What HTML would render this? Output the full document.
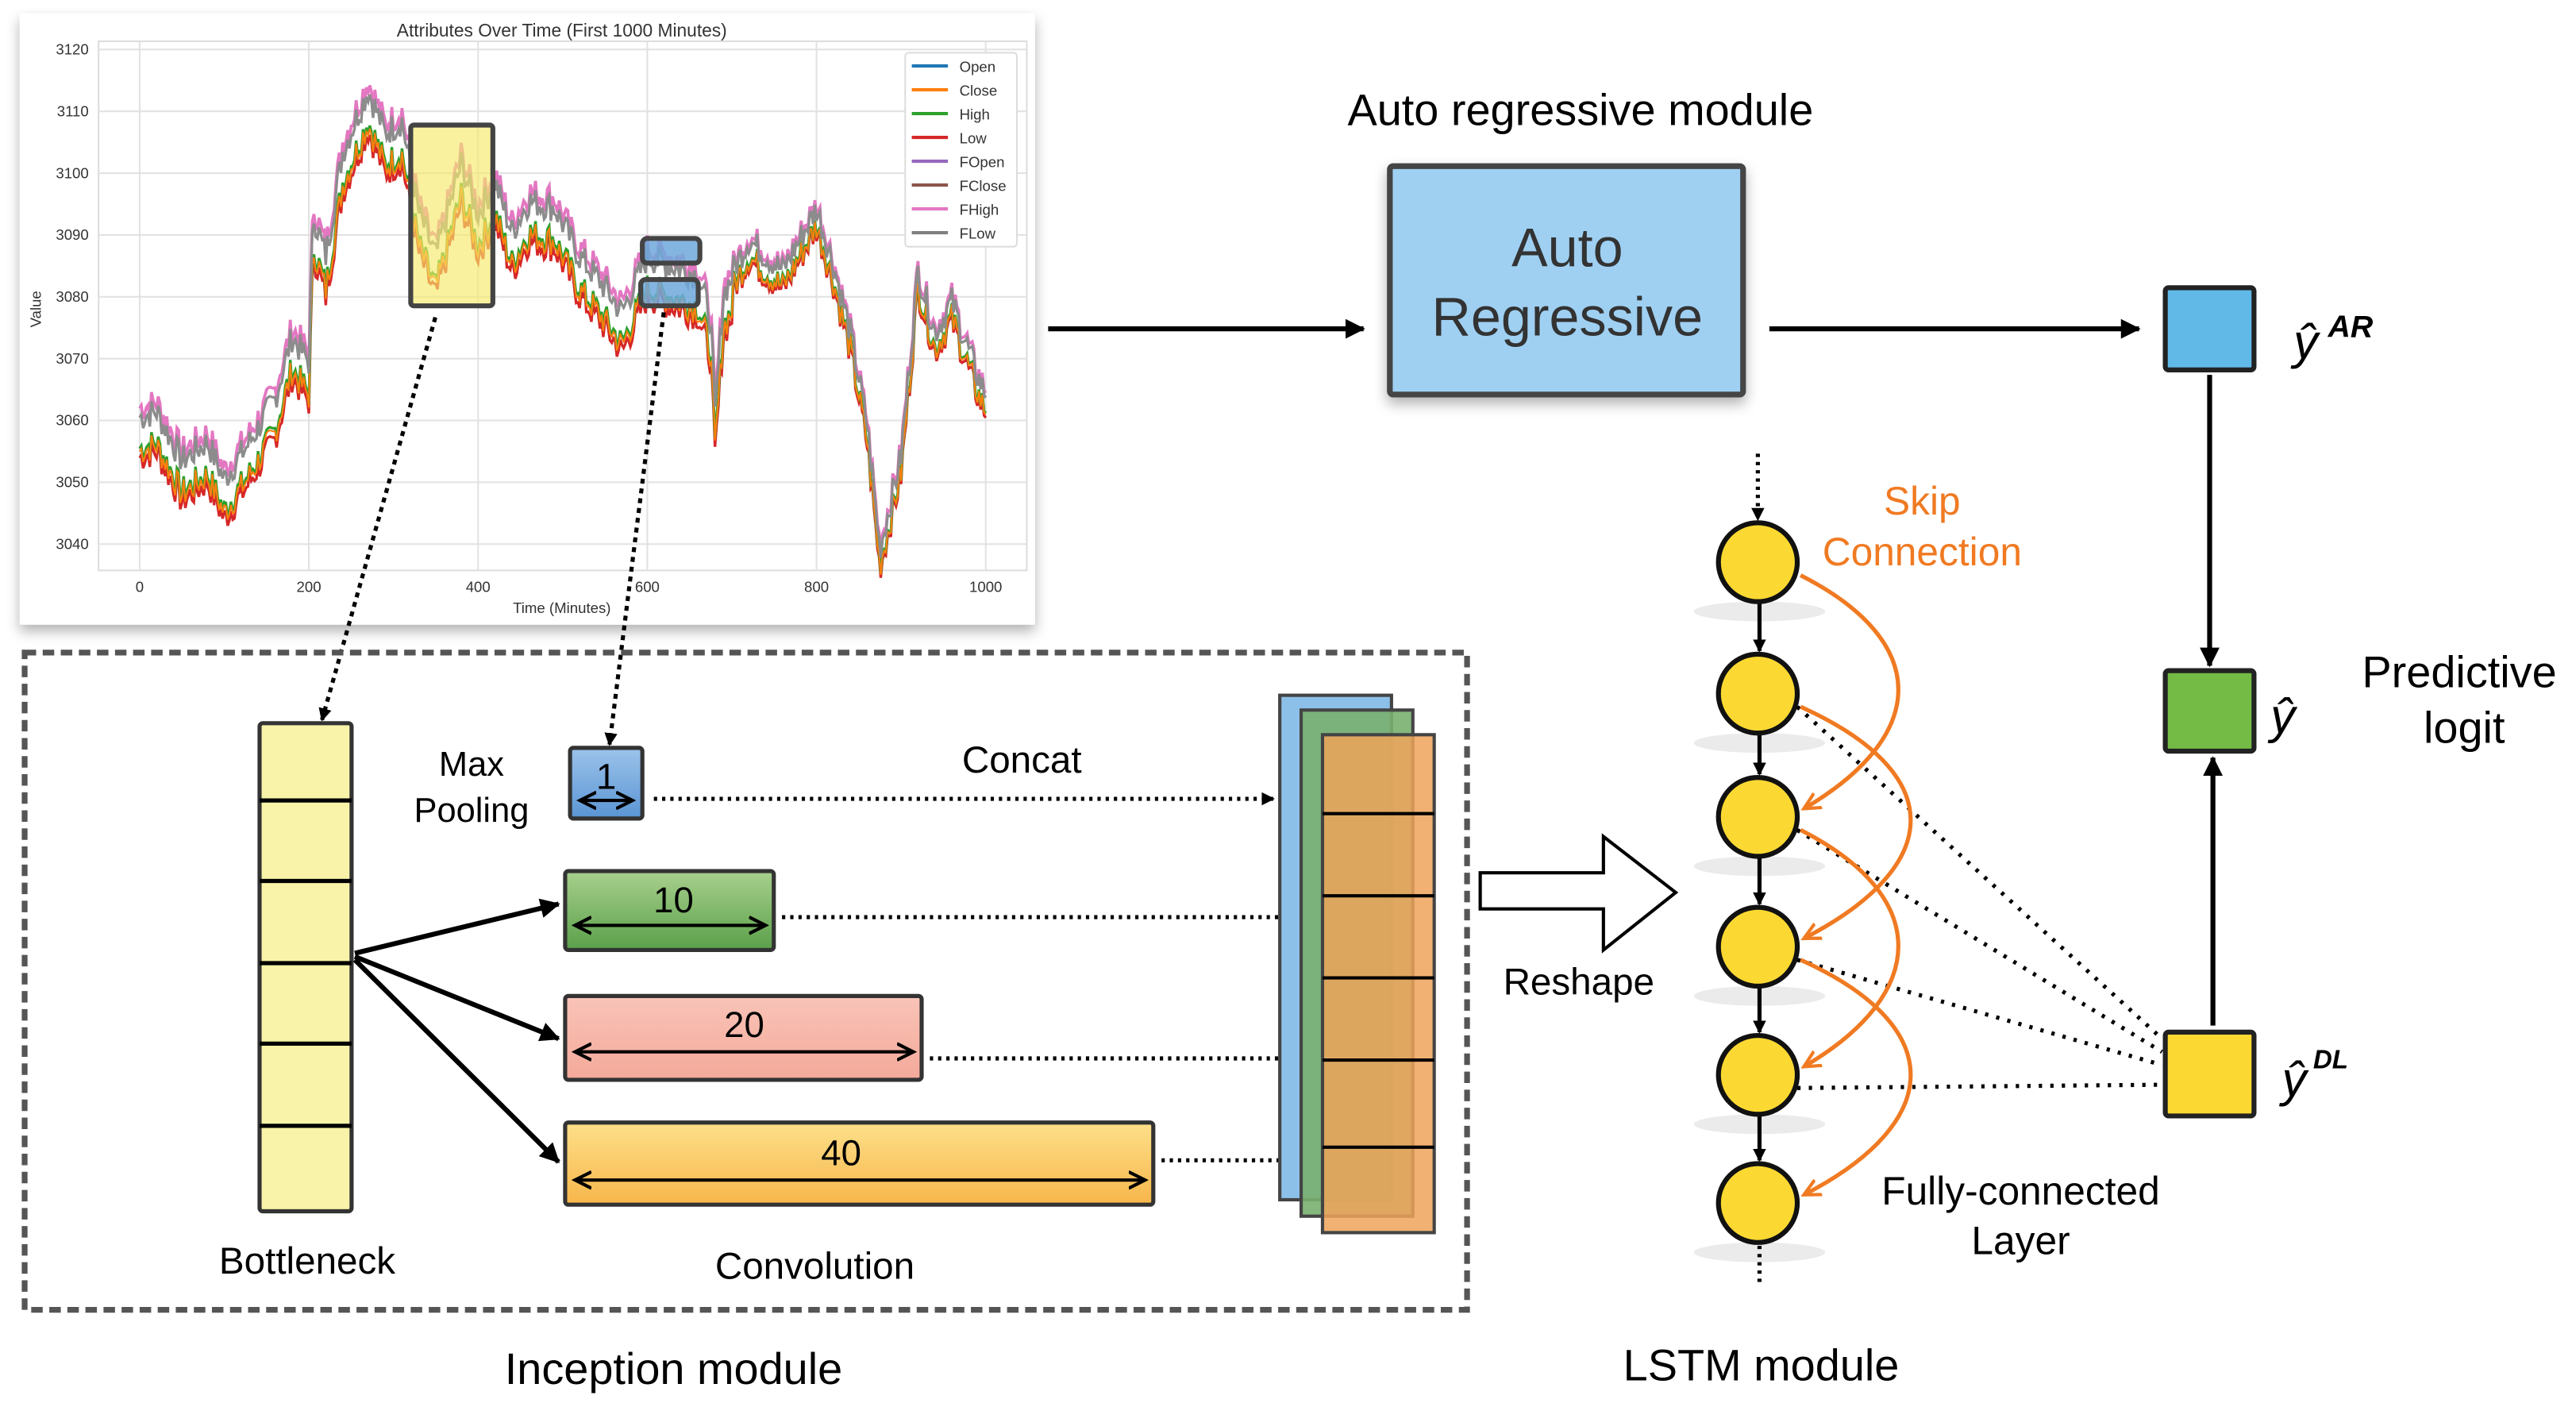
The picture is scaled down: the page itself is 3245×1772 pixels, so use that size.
<!DOCTYPE html>
<html><head><meta charset="utf-8"><style>
html,body{margin:0;padding:0;background:#fff}
svg{display:block}
text{font-family:"Liberation Sans",sans-serif}
</style></head><body>
<svg id="s" width="3245" height="1772" viewBox="0 0 1568 856" xmlns="http://www.w3.org/2000/svg">
<defs>
<marker id="ab" markerWidth="8" markerHeight="8" refX="7" refY="4" orient="auto" markerUnits="userSpaceOnUse"><path d="M0,0 L8,4 L0,8 z" fill="#000"/></marker>
<marker id="ab2" markerWidth="12" markerHeight="12" refX="11" refY="6" orient="auto" markerUnits="userSpaceOnUse"><path d="M0,0 L12,6 L0,12 z" fill="#000"/></marker>
<marker id="ao" markerWidth="12" markerHeight="12" refX="10" refY="6" orient="auto" markerUnits="userSpaceOnUse"><path d="M0,1 L10,6 L0,11" fill="none" stroke="#f07a22" stroke-width="2"/></marker>
<marker id="ac" markerWidth="12" markerHeight="12" refX="10" refY="6" orient="auto-start-reverse" markerUnits="userSpaceOnUse"><path d="M0,1 L10,6 L0,11" fill="none" stroke="#000" stroke-width="2"/></marker>
<filter id="sh" x="-20%" y="-20%" width="140%" height="160%"><feDropShadow dx="0" dy="4" stdDeviation="4" flood-opacity="0.3"/></filter>
<linearGradient id="gg" x1="0" y1="0" x2="0" y2="1"><stop offset="0" stop-color="#a8d08d"/><stop offset="1" stop-color="#5aa04a"/></linearGradient>
<linearGradient id="gp" x1="0" y1="0" x2="0" y2="1"><stop offset="0" stop-color="#f9c4b8"/><stop offset="1" stop-color="#f4a99a"/></linearGradient>
<linearGradient id="go" x1="0" y1="0" x2="0" y2="1"><stop offset="0" stop-color="#fde08a"/><stop offset="1" stop-color="#f7b64a"/></linearGradient>
<linearGradient id="gb" x1="0" y1="0" x2="0" y2="1"><stop offset="0" stop-color="#9cc3ea"/><stop offset="1" stop-color="#5a95d4"/></linearGradient>
</defs>

<rect x="12" y="8" width="618" height="372" fill="#fff" filter="url(#sh)"/>
<text x="342" y="22" font-size="11" text-anchor="middle" fill="#333">Attributes Over Time (First 1000 Minutes)</text>
<rect x="60" y="25" width="565" height="322" fill="none" stroke="#ddd"/>
<g id="grid" stroke="#e2e2e2" stroke-width="1"></g>
<g id="ticks" font-size="9" fill="#333"></g>
<text x="342" y="373" font-size="9" text-anchor="middle" fill="#333">Time (Minutes)</text>
<text x="25" y="188" font-size="9" text-anchor="middle" fill="#333" transform="rotate(-90 25 188)">Value</text>
<g id="series" fill="none" stroke-width="1.6"></g>
<rect x="551" y="32" width="68" height="118" fill="#fff" stroke="#ddd" rx="2"/>
<g id="legend" font-size="9" fill="#333"></g>
<rect x="250" y="76" width="50" height="110" fill="#f6ea6a" fill-opacity="0.65" stroke="#444" stroke-width="3" rx="2"/>
<rect x="391" y="145" width="35" height="15" fill="#6fa8dc" fill-opacity="0.85" stroke="#444" stroke-width="3" rx="3"/>
<rect x="390" y="170" width="35" height="16" fill="#6fa8dc" fill-opacity="0.85" stroke="#444" stroke-width="3" rx="3"/>

<line x1="265" y1="193" x2="196" y2="438" stroke="#000" stroke-width="2.5" stroke-dasharray="3,3" marker-end="url(#ab)"/>
<line x1="404" y1="190" x2="371" y2="453" stroke="#000" stroke-width="2.5" stroke-dasharray="3,3" marker-end="url(#ab)"/>

<rect x="15" y="397" width="878" height="400" fill="none" stroke="#555" stroke-width="3.5" stroke-dasharray="7,4"/>
<text x="410" y="842" font-size="27" text-anchor="middle">Inception module</text>

<rect x="158" y="440" width="56" height="297" fill="#f8f3a8" stroke="#333" stroke-width="2.5" rx="2"/>
<g stroke="#000" stroke-width="2.5"><line x1="158" y1="487" x2="214" y2="487"/><line x1="158" y1="536" x2="214" y2="536"/><line x1="158" y1="586" x2="214" y2="586"/><line x1="158" y1="635" x2="214" y2="635"/><line x1="158" y1="685" x2="214" y2="685"/></g>
<text x="187" y="775" font-size="23" text-anchor="middle">Bottleneck</text>

<text x="287" y="472" font-size="21" text-anchor="middle">Max</text>
<text x="287" y="500" font-size="21" text-anchor="middle">Pooling</text>
<rect x="347" y="455" width="44" height="43" fill="url(#gb)" stroke="#333" stroke-width="2.5" rx="2"/>
<text x="369" y="480" font-size="22" text-anchor="middle">1</text>
<line x1="353" y1="487" x2="385" y2="487" stroke="#000" stroke-width="2" marker-end="url(#ac)" marker-start="url(#ac)"/>

<rect x="344" y="530" width="127" height="48" fill="url(#gg)" stroke="#333" stroke-width="2.5" rx="2"/>
<text x="410" y="555" font-size="22" text-anchor="middle">10</text>
<line x1="350" y1="563" x2="466" y2="563" stroke="#000" stroke-width="2" marker-end="url(#ac)" marker-start="url(#ac)"/>
<rect x="344" y="606" width="217" height="51" fill="url(#gp)" stroke="#333" stroke-width="2.5" rx="2"/>
<text x="453" y="631" font-size="22" text-anchor="middle">20</text>
<line x1="350" y1="640" x2="556" y2="640" stroke="#000" stroke-width="2" marker-end="url(#ac)" marker-start="url(#ac)"/>
<rect x="344" y="683" width="358" height="50" fill="url(#go)" stroke="#333" stroke-width="2.5" rx="2"/>
<text x="512" y="709" font-size="22" text-anchor="middle">40</text>
<line x1="350" y1="718" x2="697" y2="718" stroke="#000" stroke-width="2" marker-end="url(#ac)" marker-start="url(#ac)"/>
<text x="496" y="778" font-size="23" text-anchor="middle">Convolution</text>

<g stroke="#000" stroke-width="3" fill="none">
<line x1="216" y1="580" x2="340" y2="550" marker-end="url(#ab2)"/>
<line x1="216" y1="582" x2="340" y2="632" marker-end="url(#ab2)"/>
<line x1="216" y1="584" x2="340" y2="707" marker-end="url(#ab2)"/>
</g>

<text x="622" y="470" font-size="23" text-anchor="middle">Concat</text>
<g stroke="#000" stroke-width="2.5" stroke-dasharray="2,3">
<line x1="398" y1="486" x2="775" y2="486" marker-end="url(#ab)"/>
<line x1="476" y1="558" x2="790" y2="558" marker-end="url(#ab)"/>
<line x1="566" y1="644" x2="800" y2="644" marker-end="url(#ab)"/>
<line x1="707" y1="706" x2="803" y2="706" marker-end="url(#ab)"/>
</g>

<rect x="779" y="423" width="68" height="307" fill="#8cc0e8" stroke="#444" stroke-width="2"/>
<rect x="792" y="432" width="68" height="308" fill="#79b070" fill-opacity="0.9" stroke="#444" stroke-width="2"/>
<rect x="805" y="447" width="68" height="303" fill="#eea35a" fill-opacity="0.85" stroke="#444" stroke-width="2"/>
<g stroke="#000" stroke-width="2"><line x1="805" y1="495" x2="873" y2="495"/><line x1="805" y1="545" x2="873" y2="545"/><line x1="805" y1="595" x2="873" y2="595"/><line x1="805" y1="645" x2="873" y2="645"/><line x1="805" y1="698" x2="873" y2="698"/></g>

<path d="M901,531 L976,531 L976,509 L1020,543 L976,578 L976,553 L901,553 z" fill="#fff" stroke="#000" stroke-width="2"/>
<text x="961" y="605" font-size="23" text-anchor="middle">Reshape</text>

<line x1="638" y1="200" x2="830" y2="200" stroke="#000" stroke-width="3" marker-end="url(#ab2)"/>
<text x="962" y="76" font-size="27" text-anchor="middle">Auto regressive module</text>
<rect x="846" y="101" width="215" height="139" fill="#9fd0f2" stroke="#444" stroke-width="3.5" rx="2" filter="url(#sh)"/>
<text x="954" y="162" font-size="33" text-anchor="middle" fill="#333">Auto</text>
<text x="954" y="204" font-size="33" text-anchor="middle" fill="#333">Regressive</text>
<line x1="1077" y1="200" x2="1302" y2="200" stroke="#000" stroke-width="3" marker-end="url(#ab2)"/>

<rect x="1318" y="175" width="54" height="50" fill="#61b9e8" stroke="#222" stroke-width="3" rx="2"/>
<text x="1396" y="218" font-size="30" font-style="italic" font-family="Liberation Serif,serif">ŷ</text><text x="1417" y="205" font-size="19" font-style="italic" font-weight="bold" font-family="Liberation Serif,serif">AR</text>
<line x1="1345" y1="228" x2="1345" y2="405" stroke="#000" stroke-width="3" marker-end="url(#ab2)"/>
<rect x="1318" y="408" width="54" height="49" fill="#73bb45" stroke="#222" stroke-width="3" rx="2"/>
<text x="1382" y="446" font-size="30" font-style="italic" font-family="Liberation Serif,serif">ŷ</text>
<text x="1497" y="418" font-size="27" text-anchor="middle">Predictive</text>
<text x="1500" y="452" font-size="27" text-anchor="middle">logit</text>
<line x1="1347" y1="624" x2="1347" y2="461" stroke="#000" stroke-width="3" marker-end="url(#ab2)"/>
<rect x="1318" y="628" width="54" height="51" fill="#fcd932" stroke="#222" stroke-width="3" rx="2"/>
<text x="1389" y="667" font-size="30" font-style="italic" font-family="Liberation Serif,serif">ŷ</text><text x="1408" y="650" font-size="16" font-style="italic" font-weight="bold" font-family="Liberation Serif,serif">DL</text>

<line x1="1070" y1="276" x2="1070" y2="316" stroke="#000" stroke-width="2.5" stroke-dasharray="2,3" marker-end="url(#ab)"/>
<line x1="1071" y1="758" x2="1071" y2="782" stroke="#000" stroke-width="2.5" stroke-dasharray="2,3"/>
<g id="lstm"></g>
<text x="1170" y="313" font-size="24" text-anchor="middle" fill="#f07a22">Skip</text>
<text x="1170" y="344" font-size="24" text-anchor="middle" fill="#f07a22">Connection</text>
<text x="1230" y="733" font-size="24" text-anchor="middle">Fully-connected</text>
<text x="1230" y="763" font-size="24" text-anchor="middle">Layer</text>
<text x="1072" y="840" font-size="27" text-anchor="middle">LSTM module</text>
</svg>
<script>
var NS="http://www.w3.org/2000/svg";
function el(p,t,a,txt){var e=document.createElementNS(NS,t);for(var k in a)e.setAttribute(k,a[k]);if(txt!=null)e.textContent=txt;document.getElementById(p).appendChild(e);return e;}
function X(t){return 85+t*0.515}function Y(v){return 30+(3120-v)*3.7625}
for(var v=3040;v<=3120;v+=10){el('grid','line',{x1:60,x2:625,y1:Y(v),y2:Y(v)});el('ticks','text',{x:54,y:Y(v)+3,'text-anchor':'end'},v);}
for(var t=0;t<=1000;t+=200){el('grid','line',{x1:X(t),x2:X(t),y1:25,y2:347});el('ticks','text',{x:X(t),y:360,'text-anchor':'middle'},t);}
var kp=[[0,3062],[20,3063],[50,3055],[80,3058],[100,3052],[130,3058],[160,3065],[180,3075],[200,3071],[205,3095],[220,3088],[240,3105],[270,3115],[290,3108],[310,3110],[330,3095],[350,3088],[380,3103],[400,3095],[420,3100],[440,3092],[460,3097],[490,3096],[520,3088],[550,3083],[570,3079],[600,3088],[620,3087],[660,3085],[675,3078],[680,3062],[690,3082],[720,3090],[760,3085],[800,3095],[820,3086],[840,3075],[860,3060],[875,3040],[900,3055],[920,3085],[940,3075],[960,3080],[990,3068],[1000,3065]];
function val(t){for(var i=0;i<kp.length-1;i++){if(t>=kp[i][0]&&t<=kp[i+1][0]){var f=(t-kp[i][0])/(kp[i+1][0]-kp[i][0]);return kp[i][1]+f*(kp[i+1][1]-kp[i][1]);}}return kp[kp.length-1][1];}
var seed=7;function rnd(){seed=(seed*9301+49297)%233280;return seed/233280;}
var base=[];for(var t=0;t<=1000;t+=2){base.push([t,val(t)+(rnd()-0.5)*5]);}
function pl(off,col,w){var p=base.map(function(b){var o=off;if(b[0]>700)o=off*0.5;return X(b[0]).toFixed(1)+","+Y(b[1]-o).toFixed(1)}).join(" ");el('series','polyline',{points:p,stroke:col,'stroke-width':w});}
pl(8,'#d62728',1.6);pl(6.5,'#2ca02c',1.6);pl(7,'#ff7f0e',1);pl(0,'#e377c2',1.8);pl(1.5,'#8c8c8c',1.6);
var lg=[['Open','#1f77b4'],['Close','#ff7f0e'],['High','#2ca02c'],['Low','#d62728'],['FOpen','#9467bd'],['FClose','#8c564b'],['FHigh','#e377c2'],['FLow','#7f7f7f']];
lg.forEach(function(l,i){var y=40+i*14.5;el('legend','line',{x1:555,x2:577,y1:y,y2:y,stroke:l[1],'stroke-width':2});el('legend','text',{x:584,y:y+3.5},l[0]);});
var cy=[342,422,497,576,654,732];
for(var i=0;i<5;i++){el('lstm','line',{x1:1071,x2:1071,y1:cy[i]+24,y2:cy[i+1]-26,stroke:'#000','stroke-width':2.5,'marker-end':'url(#ab)'});}
for(var i=1;i<5;i++){el('lstm','line',{x1:1094,y1:cy[i]+8,x2:1316,y2:[632,640,648,660][i-1],stroke:'#000','stroke-width':2.5,'stroke-dasharray':'2,5'});}
cy.forEach(function(y){el('lstm','ellipse',{cx:1071,cy:y+30,rx:40,ry:6,fill:'#000',opacity:0.08});el('lstm','circle',{cx:1070,cy:y,r:24,fill:'#fcd932',stroke:'#111','stroke-width':3});});
for(var i=0;i<4;i++){var y1=cy[i]+8,y2=cy[i+2]-5;var xm=i%2==0?1165:1175;el('lstm','path',{d:'M1096,'+y1+' C'+(xm+10)+','+(y1+40)+' '+(xm+10)+','+(y2-45)+' 1098,'+y2,fill:'none',stroke:'#f07a22','stroke-width':2.5,'marker-end':'url(#ao)'});}
</script>
</body></html>
